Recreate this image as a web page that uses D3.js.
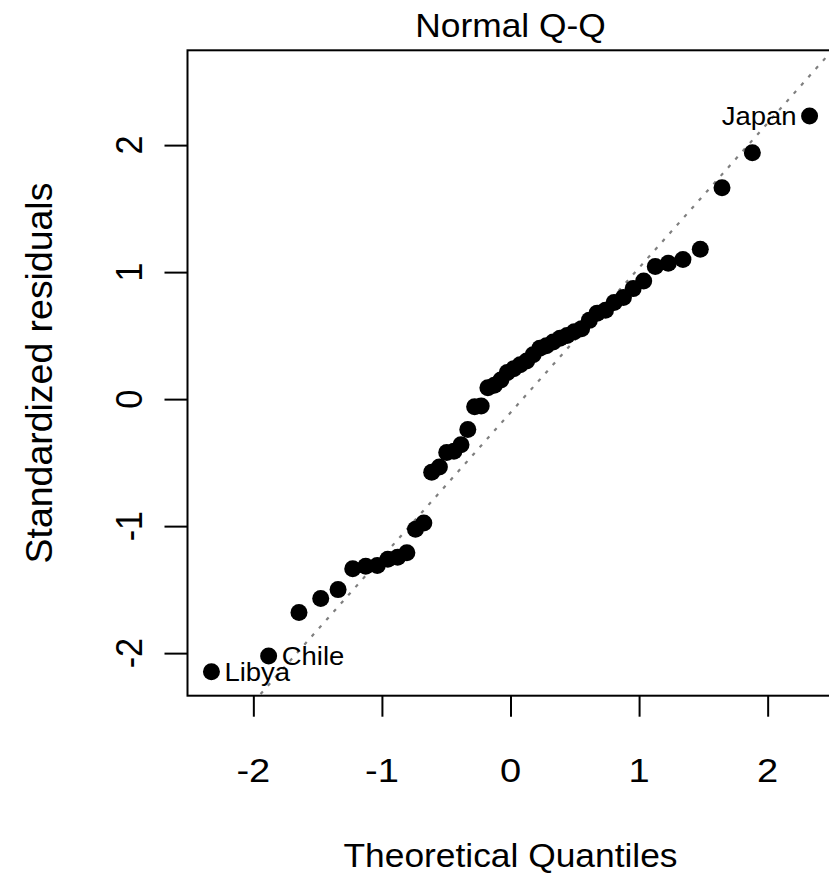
<!DOCTYPE html>
<html>
<head>
<meta charset="utf-8">
<script src="https://cdn.jsdelivr.net/npm/d3@7"></script>
<style>
  body { margin: 0; background: #fff; }
  svg { display: block; }
  text { font-family: "Liberation Sans", Arial, sans-serif; fill: #000; }
</style>
</head>
<body>
<svg id="chart"></svg>
<script>
var width = 829;
var height = 874;

// theoretical normal quantiles (x) and standardized residuals (y), 50 points
var theoretical = [
  -2.326, -1.881, -1.645, -1.476, -1.341, -1.227, -1.126, -1.036, -0.954, -0.878,
  -0.806, -0.739, -0.674, -0.613, -0.553, -0.496, -0.440, -0.385, -0.332, -0.279,
  -0.228, -0.176, -0.126, -0.075, -0.025,  0.025,  0.075,  0.126,  0.176,  0.228,
   0.279,  0.332,  0.385,  0.440,  0.496,  0.553,  0.613,  0.674,  0.739,  0.806,
   0.878,  0.954,  1.036,  1.126,  1.227,  1.341,  1.476,  1.645,  1.881,  2.326
];
var residuals = [
  -2.147, -2.022, -1.68, -1.57, -1.50, -1.335, -1.316, -1.31, -1.26, -1.245,
  -1.21, -1.025, -0.975, -0.575, -0.535, -0.42, -0.41, -0.36, -0.24, -0.06,
  -0.055, 0.09, 0.11, 0.15, 0.21, 0.24, 0.27, 0.30, 0.35, 0.40,
   0.42, 0.45, 0.48, 0.50, 0.53, 0.555, 0.62, 0.677, 0.70, 0.76,
   0.80, 0.87, 0.93, 1.045, 1.07, 1.10, 1.18, 1.665, 1.94, 2.23
];

// labelled observations
var labelIndex = [0, 1, 49];
var labelNames = ["Libya", "Chile", "Japan"];

var xTicks = [-2, -1, 0, 1, 2];
var yTicks = [-2, -1, 0, 1, 2];
var normQuartiles = [-0.6745, 0.6745];

var plotLeft = 187.5, plotRight = 833.5, plotTop = 50.3, plotBottom = 695.7;
var fontSize = 34;
var ySize = 36;
var stretch = 1.04;

var svg = d3.select('#chart')
    .attr('width', width)
    .attr('height', height);

// domains like R: 4% padding, extra room on top for labels
var xExt = d3.extent(theoretical);
var xPad = (xExt[1] - xExt[0]) * 0.04;
var x = d3.scaleLinear()
    .domain([xExt[0] - xPad, xExt[1] + xPad])
    .range([plotLeft, plotRight]);

var yExt = d3.extent(residuals);
yExt[1] = yExt[1] + (yExt[1] - yExt[0]) * 0.075;
var yPad = (yExt[1] - yExt[0]) * 0.04;
var y = d3.scaleLinear()
    .domain([yExt[0] - yPad, yExt[1] + yPad])
    .range([plotBottom, plotTop]);

svg.append('defs').append('clipPath')
    .attr('id', 'plotclip')
  .append('rect')
    .attr('x', plotLeft)
    .attr('y', plotTop)
    .attr('width', plotRight - plotLeft)
    .attr('height', plotBottom - plotTop);

function addText(str, px, py, rot, size, anchor, sx){
    return svg.append('text')
        .attr('transform', 'translate(' + px + ',' + py + ') rotate(' + rot + ') scale(' + (sx || stretch) + ',1)')
        .attr('text-anchor', anchor)
        .style('font-size', size + 'px')
        .text(str);
}

// qq reference line through the quartiles
var sorted = residuals.slice().sort(d3.ascending);
var q1 = d3.quantileSorted(sorted, 0.25);
var q3 = d3.quantileSorted(sorted, 0.75);
var slope = (q3 - q1) / (normQuartiles[1] - normQuartiles[0]);
var intercept = q1 - slope * normQuartiles[0];
var xd = x.domain();

var plotArea = svg.append('g').attr('clip-path', 'url(#plotclip)');

plotArea.append('line')
    .attr('x1', x(xd[0]))
    .attr('y1', y(intercept + slope * xd[0]))
    .attr('x2', x(xd[1]))
    .attr('y2', y(intercept + slope * xd[1]))
    .style('stroke', '#7f7f7f')
    .style('stroke-width', 2.2)
    .style('stroke-dasharray', '3.5,7.5');

plotArea.selectAll('circle')
    .data(theoretical)
    .enter().append('circle')
    .attr('cx', function(d){ return x(d); })
    .attr('cy', function(d, i){ return y(residuals[i]); })
    .attr('r', 8.5)
    .style('fill', '#000');

// point labels (left of point when on the right half)
labelIndex.forEach(function(idx, k){
    var px = x(theoretical[idx]);
    var py = y(residuals[idx]);
    var left = theoretical[idx] > 0;
    addText(labelNames[k], left ? px - 13 : px + 13, py + 9.5, 0, 25, left ? 'end' : 'start', 1.1);
});

// box
svg.append('rect')
    .attr('x', plotLeft)
    .attr('y', plotTop)
    .attr('width', plotRight - plotLeft)
    .attr('height', plotBottom - plotTop)
    .style('fill', 'none')
    .style('stroke', '#000')
    .style('stroke-width', 2);

// x axis
var xAxis = d3.axisBottom(x)
    .tickValues(xTicks)
    .tickSize(21)
    .tickFormat(function(d){ return d; });
var gx = svg.append('g')
    .attr('transform', 'translate(0,' + plotBottom + ')')
    .call(xAxis);
gx.select('.domain').remove();
gx.selectAll('.tick line').style('stroke', '#000').style('stroke-width', 2);
gx.selectAll('.tick text').remove();
xTicks.forEach(function(t){
    addText(t, x(t), 782, 0, fontSize, 'middle', 1.12);
});

// y axis
var yAxis = d3.axisLeft(y)
    .tickValues(yTicks)
    .tickSize(23)
    .tickFormat(function(d){ return d; });
var gy = svg.append('g')
    .attr('transform', 'translate(' + plotLeft + ',0)')
    .call(yAxis);
gy.select('.domain').remove();
gy.selectAll('.tick line').style('stroke', '#000').style('stroke-width', 2);
gy.selectAll('.tick text').remove();
yTicks.forEach(function(t){
    addText(t, 141.5, y(t), -90, ySize, 'middle', 0.95);
});

// titles
var midX = (plotLeft + plotRight) / 2;
var midY = (plotTop + plotBottom) / 2;
addText('Normal Q-Q', midX, 37, 0, fontSize, 'middle');
addText('Theoretical Quantiles', midX, 867, 0, fontSize, 'middle');
addText('Standardized residuals', 52, midY, -90, ySize, 'middle');
</script>
</body>
</html>
